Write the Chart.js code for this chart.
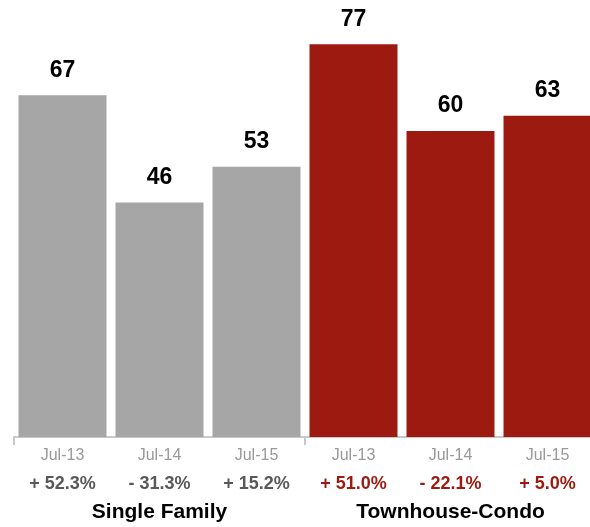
<!DOCTYPE html>
<html lang="en">
<head>
    <meta charset="UTF-8">
    <title>Sales by Property Type</title>
    <script src="https://cdn.jsdelivr.net/npm/chart.js"></script>
    <style>
        html, body {
            margin: 0;
            padding: 0;
            background: #ffffff;
            overflow: hidden;
        }
        .chart-box {
            width: 590px;
            height: 527px;
            overflow: hidden;
        }
    </style>
</head>
<body>
<div class="chart-box">
    <canvas id="salesChart" width="596" height="527"></canvas>
</div>

<script>
    // Chart data
    const months = ['Jul-13', 'Jul-14', 'Jul-15', 'Jul-13', 'Jul-14', 'Jul-15'];
    const sales = [67, 46, 53, 77, 60, 63];
    const changes = ['+ 52.3%', '- 31.3%', '+ 15.2%', '+ 51.0%', '- 22.1%', '+ 5.0%'];
    const groups = ['Single Family', 'Townhouse-Condo'];

    const GRAY = '#a6a6a6';
    const RED = '#9c1a10';
    const FONT = "'Liberation Sans', Arial, Helvetica, sans-serif";

    // Value labels above each bar
    const valueLabels = {
        id: 'valueLabels',
        afterDatasetsDraw(chart) {
            const ctx = chart.ctx;
            const meta = chart.getDatasetMeta(0);
            ctx.save();
            ctx.font = 'bold 23px ' + FONT;
            ctx.fillStyle = '#000000';
            ctx.textAlign = 'center';
            ctx.textBaseline = 'middle';
            meta.data.forEach((bar, i) => {
                ctx.fillText(String(sales[i]), bar.x, bar.y - 25);
            });
            ctx.restore();
        }
    };

    // Group names under the percentage row, centred on each set of three bars
    const groupLabels = {
        id: 'groupLabels',
        afterDraw(chart) {
            const ctx = chart.ctx;
            const xs = chart.scales.x;
            ctx.save();
            ctx.font = 'bold 21px ' + FONT;
            ctx.fillStyle = '#000000';
            ctx.textAlign = 'center';
            ctx.textBaseline = 'middle';
            groups.forEach((name, g) => {
                const cx = xs.getPixelForValue(g * 3 + 1);
                ctx.fillText(name, cx, chart.height - 15);
            });
            ctx.restore();
        }
    };

    const ctx = document.getElementById('salesChart').getContext('2d');
    new Chart(ctx, {
        type: 'bar',
        data: {
            labels: months,
            datasets: [{
                data: sales,
                backgroundColor: sales.map((v, i) => i < 3 ? GRAY : RED),
                borderWidth: 0,
                categoryPercentage: 1,
                barPercentage: 0.907
            }]
        },
        options: {
            responsive: false,
            animation: false,
            layout: {
                padding: { left: 14, right: 0, top: 0, bottom: 30 }
            },
            plugins: {
                legend: { display: false },
                tooltip: { enabled: false }
            },
            scales: {
                y: {
                    display: false,
                    min: 0,
                    max: 85.7
                },
                x: {
                    weight: 0,
                    afterFit: (scale) => { scale.height = 23; },
                    border: { color: '#c8c8c8', width: 2 },
                    grid: {
                        drawOnChartArea: false,
                        drawTicks: true,
                        tickLength: 8,
                        lineWidth: 2,
                        color: (c) => (c.index === 0 || c.index === 3) ? '#c8c8c8' : 'rgba(0,0,0,0)'
                    },
                    ticks: {
                        color: '#999999',
                        padding: 1,
                        font: { family: FONT, size: 16 }
                    }
                },
                x2: {
                    type: 'category',
                    position: 'bottom',
                    weight: 1,
                    offset: true,
                    labels: changes,
                    afterFit: (scale) => { scale.height = 37; },
                    border: { display: false },
                    grid: { display: false },
                    ticks: {
                        padding: 5,
                        color: (c) => c.index < 3 ? '#595959' : RED,
                        font: { family: FONT, size: 18, weight: 'bold' }
                    }
                }
            }
        },
        plugins: [valueLabels, groupLabels]
    });
</script>
</body>
</html>
